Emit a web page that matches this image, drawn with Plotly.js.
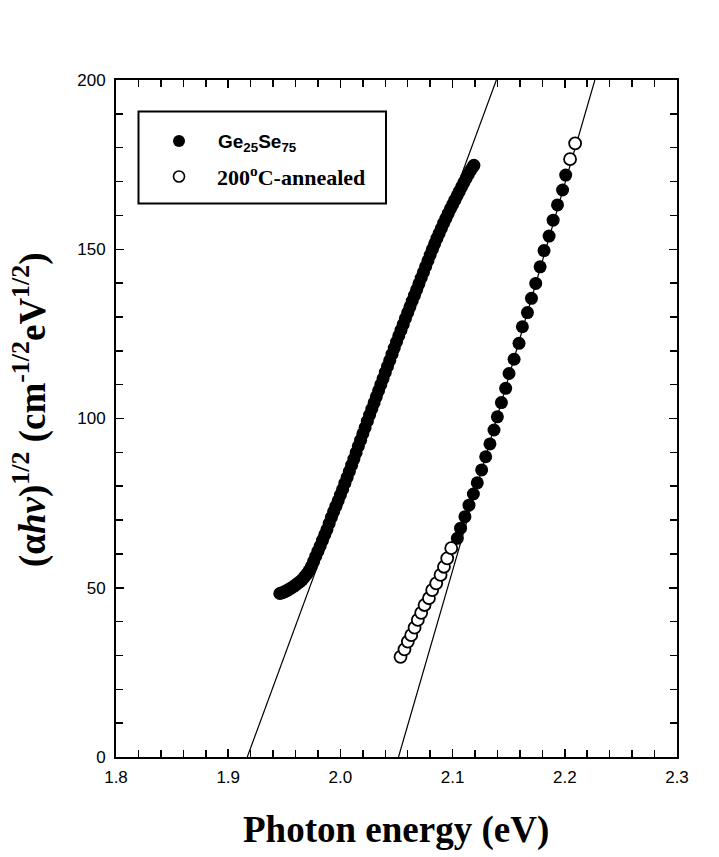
<!DOCTYPE html>
<html>
<head>
<meta charset="utf-8">
<script src="https://cdn.plot.ly/plotly-3.0.1.min.js"></script>
<style>html,body{margin:0;padding:0;background:#fff;}</style>
</head>
<body>
<div id="chart" style="width:719px;height:857px;"></div>
<script>
// As-deposited Ge25Se75 (filled circles)
const asDepX = [1.946,1.948,1.950,1.952,1.954,1.956,1.958,1.960,1.962,1.964,1.966,1.968,1.970,1.972,1.974,1.976,1.978,1.980,1.982,1.984,1.986,1.988,1.990,1.992,1.994,1.996,1.998,2.000,2.002,2.004,2.006,2.008,2.010,2.012,2.014,2.016,2.018,2.020,2.022,2.024,2.026,2.028,2.030,2.032,2.034,2.036,2.038,2.040,2.042,2.044,2.046,2.048,2.050,2.052,2.054,2.056,2.058,2.060,2.062,2.064,2.066,2.068,2.070,2.072,2.074,2.076,2.078,2.080,2.082,2.084,2.086,2.088,2.090,2.092,2.094,2.096,2.098,2.100,2.102,2.104,2.106,2.108,2.110,2.112,2.114,2.116,2.118,2.119];
const asDepY = [48.3,48.5,48.8,49.1,49.5,49.9,50.3,50.8,51.3,51.8,52.4,53.2,54.0,55.0,56.2,57.7,59.3,60.8,62.3,64.0,65.6,67.2,69.0,70.8,72.5,74.1,75.7,77.4,79.1,80.9,82.6,84.4,86.2,88.0,89.9,91.8,93.6,95.5,97.3,99.2,101.0,102.8,104.6,106.4,108.2,110.0,111.8,113.6,115.4,117.2,119.0,120.8,122.6,124.4,126.1,127.8,129.6,131.3,133.0,134.7,136.4,138.1,139.8,141.5,143.2,144.9,146.6,148.3,150.0,151.6,153.2,154.7,156.2,157.7,159.1,160.5,161.9,163.2,164.5,165.8,167.1,168.4,169.7,170.9,172.1,173.3,174.3,174.8];

// Second curve, filled points
const fill2X = [2.1042,2.1071,2.1110,2.1146,2.1185,2.1220,2.1259,2.1295,2.1333,2.1369,2.1399,2.1435,2.1473,2.1503,2.1548,2.1592,2.1622,2.1667,2.1703,2.1741,2.1780,2.1815,2.1860,2.1896,2.1935,2.1980,2.2008];
const fill2Y = [64.6,67.6,71.0,74.4,77.7,81.0,84.8,88.7,92.5,96.6,100.5,104.7,108.9,113.3,117.5,122.2,127.1,131.3,135.5,139.9,144.8,149.6,153.9,158.6,163.1,167.5,171.9];

// 200 C-annealed (open circles)
const annX = [2.0536,2.0571,2.0601,2.0631,2.0661,2.0690,2.0720,2.0750,2.0789,2.0818,2.0854,2.0893,2.0923,2.0952,2.0988,2.2047,2.2092];
const annY = [29.6,31.8,34.1,36.0,38.2,40.5,42.6,44.9,46.9,49.3,51.3,53.8,56.2,58.7,61.7,176.6,181.3];

// Linear fits (extrapolated to zero)
const fit1X = [1.917, 2.139];
const fit1Y = [0, 200];
const fit2X = [2.0518, 2.2268];
const fit2Y = [0, 200];

const xTicks = [1.8, 1.9, 2.0, 2.1, 2.2, 2.3];
const xTickText = ['1.8', '1.9', '2.0', '2.1', '2.2', '2.3'];
const yTicks = [0, 50, 100, 150, 200];
const yTickText = ['0', '50', '100', '150', '200'];

const legendNames = ['<b>Ge<sub>25</sub>Se<sub>75</sub></b>', '<b>200<sup>o</sup>C-annealed</b>'];
const xTitle = '<b>Photon energy (eV)</b>';
const yTitle = '<b>(α<i>hν</i>)<sup>1/2</sup> (cm<sup>-1/2</sup>eV<sup>1/2</sup>)</b>';

const serif = 'Liberation Serif, Times New Roman, serif';
const sans = 'Liberation Sans, Arial, sans-serif';

const traces = [
  {x: fit1X, y: fit1Y, mode: 'lines', line: {color: '#000', width: 1.2}, showlegend: false, hoverinfo: 'skip'},
  {x: fit2X, y: fit2Y, mode: 'lines', line: {color: '#000', width: 1.2}, showlegend: false, hoverinfo: 'skip'},
  {x: asDepX, y: asDepY, mode: 'markers', marker: {symbol: 'circle', size: 13, color: '#000', line: {width: 0}}, showlegend: false},
  {x: fill2X, y: fill2Y, mode: 'markers', marker: {symbol: 'circle', size: 13, color: '#000', line: {width: 0}}, showlegend: false},
  {x: annX, y: annY, mode: 'markers', marker: {symbol: 'circle', size: 12, color: '#fff', line: {width: 1.8, color: '#000'}}, showlegend: false}
];

const L = 116, R = 677, T = 80, B = 757;
const W = R - L, H = B - T;
const px = v => (v - L) / W;
const py = v => (B - v) / H;

const layout = {
  width: 719, height: 857,
  margin: {l: L, r: 719 - R, t: T, b: 857 - B, pad: 0},
  paper_bgcolor: '#fff', plot_bgcolor: '#fff',
  showlegend: false,
  xaxis: {
    range: [1.8, 2.3], tickvals: xTicks, ticktext: xTickText,
    ticks: 'inside', ticklen: 8, tickwidth: 1.5, tickcolor: '#000',
    minor: {dtick: 0.02, tick0: 1.8, ticks: 'inside', ticklen: 7, tickwidth: 1.5, tickcolor: '#000', showgrid: false},
    showline: true, linecolor: '#000', linewidth: 2, mirror: 'allticks',
    showgrid: false, zeroline: false,
    tickfont: {family: sans, size: 17, color: '#000'},
    ticklabelstandoff: 4
  },
  yaxis: {
    range: [0, 200], tickvals: yTicks, ticktext: yTickText,
    ticks: 'inside', ticklen: 8, tickwidth: 1.5, tickcolor: '#000',
    minor: {dtick: 10, tick0: 0, ticks: 'inside', ticklen: 7, tickwidth: 1.5, tickcolor: '#000', showgrid: false},
    showline: true, linecolor: '#000', linewidth: 2, mirror: 'allticks',
    showgrid: false, zeroline: false,
    tickfont: {family: sans, size: 17, color: '#000'},
    ticklabelstandoff: 5
  },
  shapes: [
    {type: 'rect', xref: 'paper', yref: 'paper', x0: px(138.5), x1: px(386), y0: py(203.5), y1: py(111.5), line: {color: '#000', width: 2}, fillcolor: 'rgba(0,0,0,0)'},
    {type: 'circle', xref: 'paper', yref: 'paper', x0: px(173), x1: px(185), y0: py(147), y1: py(135), line: {width: 0}, fillcolor: '#000'},
    {type: 'circle', xref: 'paper', yref: 'paper', x0: px(173.5), x1: px(184.5), y0: py(182), y1: py(171), line: {width: 1.6, color: '#000'}, fillcolor: '#fff'}
  ],
  annotations: [
    {xref: 'paper', yref: 'paper', x: px(216), y: py(143), xanchor: 'left', yanchor: 'middle', showarrow: false, text: legendNames[0], font: {family: sans, size: 19, color: '#000'}},
    {xref: 'paper', yref: 'paper', x: px(215), y: py(176), xanchor: 'left', yanchor: 'middle', showarrow: false, text: legendNames[1], font: {family: serif, size: 22, color: '#000'}},
    {xref: 'paper', yref: 'paper', x: px(396), y: py(830), xanchor: 'center', yanchor: 'middle', showarrow: false, text: xTitle, font: {family: serif, size: 37, color: '#000'}},
    {xref: 'paper', yref: 'paper', x: px(30), y: py(410), xanchor: 'center', yanchor: 'middle', textangle: -90, showarrow: false, text: yTitle, font: {family: serif, size: 37, color: '#000'}}
  ]
};

Plotly.newPlot('chart', traces, layout, {displayModeBar: false, staticPlot: true});
</script>
</body>
</html>
